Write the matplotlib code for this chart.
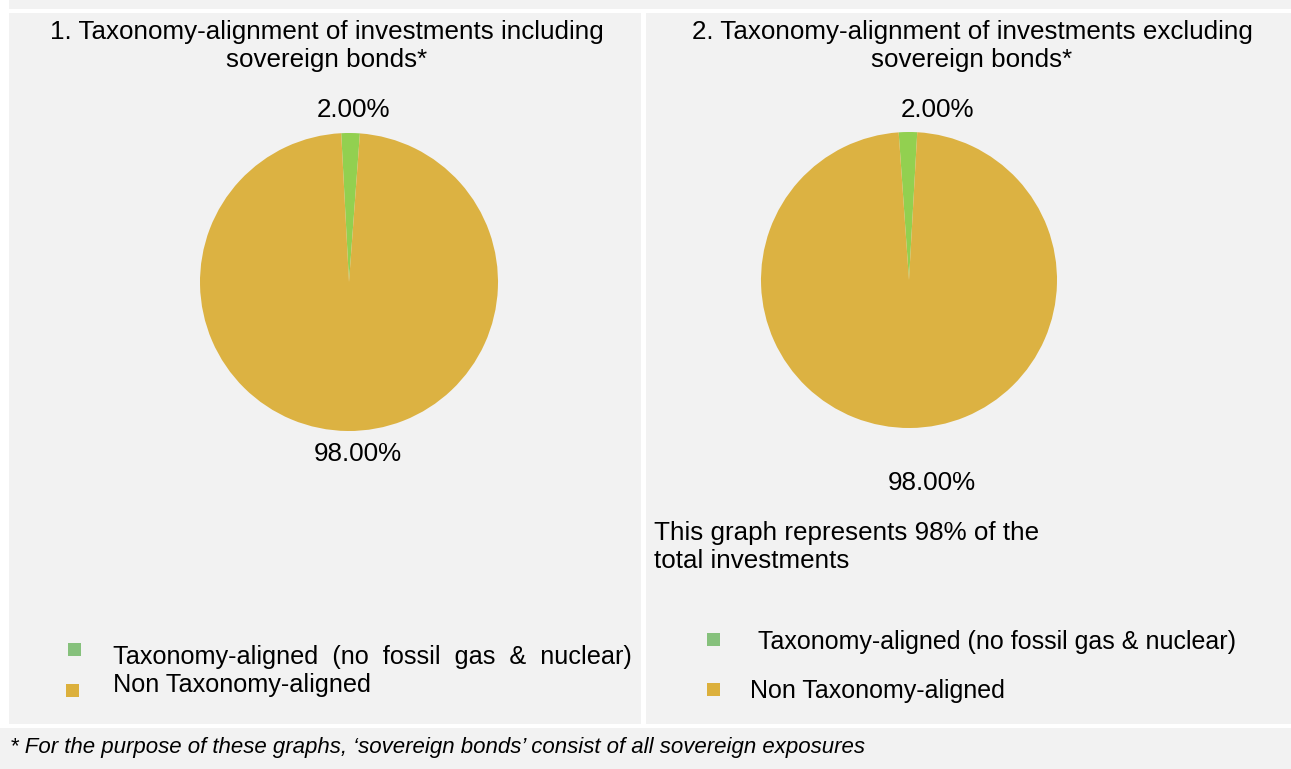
import matplotlib.pyplot as plt
from matplotlib.patches import Rectangle

# data
categories = ["Taxonomy-aligned (no fossil gas & nuclear)", "Non Taxonomy-aligned"]
incl_sovereign = [2.00, 98.00]
excl_sovereign = [2.00, 98.00]
titles = ["1. Taxonomy-alignment of investments including\nsovereign bonds*",
          "2. Taxonomy-alignment of investments excluding\nsovereign bonds*"]
note = "This graph represents 98% of the\ntotal investments"
footnote = "* For the purpose of these graphs, \u2018sovereign bonds\u2019 consist of all sovereign exposures"

pie_colors = ["#92d050", "#dcb242"]
legend_colors = ["#86c17c", "#dcb03c"]
bg = "#f2f2f2"

plt.rcParams['font.family'] = ['Liberation Sans', 'DejaVu Sans']

W, H = 1291, 769
fig = plt.figure(figsize=(W / 100, H / 100), dpi=100)
fig.patch.set_facecolor("white")


# helpers working in pixel coords measured from the top-left
def rect(x0, y0, x1, y1, color):
    fig.add_artist(Rectangle((x0 / W, 1 - y1 / H), (x1 - x0) / W, (y1 - y0) / H,
                             transform=fig.transFigure, color=color, lw=0, zorder=0))


def txt(x, y, s, **kw):
    fig.text(x / W, 1 - y / H, s, **kw)


def pie_axes(x0, y0, x1, y1):
    return fig.add_axes([x0 / W, 1 - y1 / H, (x1 - x0) / W, (y1 - y0) / H])


# panels
rect(9, 0, W, 9, bg)
rect(9, 13, 641, 724, bg)
rect(646, 13, W, 724, bg)
rect(0, 728, W, H, bg)

# titles
txt(327, 46, titles[0], ha="center", va="center", fontsize=18.7, linespacing=1.18)
txt(972, 46, titles[1], ha="center", va="center", fontsize=18.7, linespacing=1.18)

# pies
ax1 = pie_axes(200, 132, 498, 432)
ax1.pie(incl_sovereign, colors=pie_colors, startangle=93, counterclock=False,
        wedgeprops=dict(linewidth=0))
ax1.set_xlim(-1, 1)
ax1.set_ylim(-1, 1)
ax1.axis("off")

ax2 = pie_axes(761, 130, 1057, 430)
ax2.pie(excl_sovereign, colors=pie_colors, startangle=94, counterclock=False,
        wedgeprops=dict(linewidth=0))
ax2.set_xlim(-1, 1)
ax2.set_ylim(-1, 1)
ax2.axis("off")

# value labels
txt(354, 110, "%.2f%%" % incl_sovereign[0], ha="center", va="center", fontsize=18.7)
txt(358, 454, "%.2f%%" % incl_sovereign[1], ha="center", va="center", fontsize=18.7)
txt(938, 110, "%.2f%%" % excl_sovereign[0], ha="center", va="center", fontsize=18.7)
txt(932, 483, "%.2f%%" % excl_sovereign[1], ha="center", va="center", fontsize=18.7)

txt(654, 547, note, ha="left", va="center", fontsize=18.7, linespacing=1.18)

# legends
rect(68, 643, 81, 656, legend_colors[0])
rect(66, 684, 79, 697, legend_colors[1])
txt(113, 657, "Taxonomy-aligned  (no  fossil  gas  &  nuclear)", ha="left", va="center", fontsize=18.2)
txt(113, 685, categories[1], ha="left", va="center", fontsize=18.2)

rect(707, 633, 720, 646, legend_colors[0])
rect(707, 683, 720, 696, legend_colors[1])
txt(758, 642, categories[0], ha="left", va="center", fontsize=18)
txt(750, 691, categories[1], ha="left", va="center", fontsize=18)

txt(10, 748, footnote, ha="left", va="center", fontsize=16, style="italic")

fig.savefig("out.png", dpi=100, facecolor=fig.get_facecolor())
